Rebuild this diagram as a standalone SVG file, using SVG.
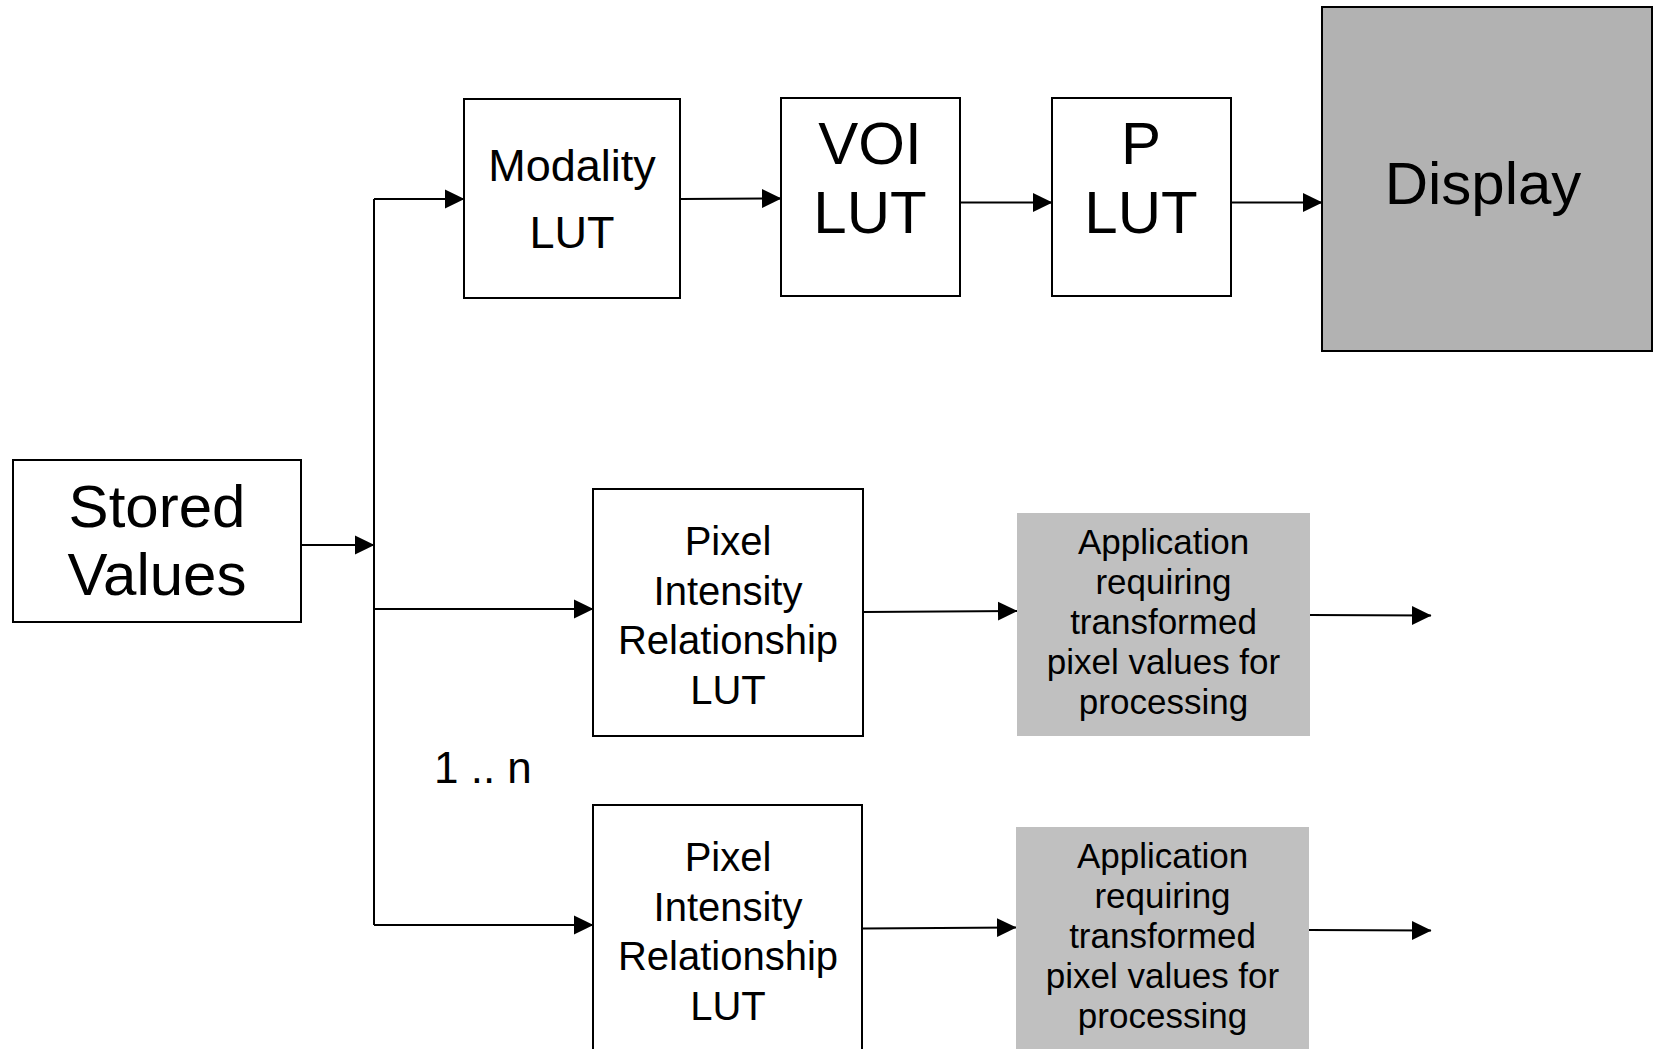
<svg xmlns="http://www.w3.org/2000/svg" width="1654" height="1049" viewBox="0 0 1654 1049">
<style>
text{font-family:"Liberation Sans",Arial,sans-serif;fill:#000;text-anchor:middle}
.box{fill:#fff;stroke:#000;stroke-width:2}
.dark{fill:#b2b2b2;stroke:#000;stroke-width:2}
.app{fill:#c0c0c0;stroke:none}
.c{fill:none;stroke:#000;stroke-width:2}
.a{fill:none;stroke:#000;stroke-width:2;marker-end:url(#ah)}
</style>
<defs>
<marker id="ah" markerUnits="userSpaceOnUse" markerWidth="20" markerHeight="20" viewBox="0 0 20 20" refX="19" refY="10" orient="auto">
<path d="M0,0.5 L19.5,10 L0,19.5 Z" fill="#000"/>
</marker>
</defs>
<rect width="1654" height="1049" fill="#fff"/>
<g id="connectors">
<line class="a" x1="301" y1="545" x2="374" y2="545"/>
<line class="c" x1="374" y1="199" x2="374" y2="925"/>
<line class="a" x1="374" y1="199" x2="464" y2="199"/>
<line class="a" x1="681" y1="199" x2="781" y2="198.5"/>
<line class="a" x1="961" y1="202.5" x2="1052" y2="202.5"/>
<line class="a" x1="1231" y1="202.5" x2="1322" y2="202.5"/>
<line class="a" x1="374" y1="609" x2="593" y2="609"/>
<line class="a" x1="374" y1="925" x2="593" y2="925"/>
<line class="a" x1="864" y1="612" x2="1017" y2="611"/>
<line class="a" x1="1310" y1="615" x2="1431" y2="615.5"/>
<line class="a" x1="863" y1="928.5" x2="1016" y2="927.5"/>
<line class="a" x1="1309" y1="930" x2="1431" y2="930.5"/>
</g>
<g id="stored">
<rect class="box" x="13" y="460" width="288" height="162"/>
<text x="157" y="527" font-size="60">Stored</text>
<text x="157" y="595" font-size="60">Values</text>
</g>
<g id="modality">
<rect class="box" x="464" y="99" width="216" height="199"/>
<text x="572" y="181" font-size="45">Modality</text>
<text x="572" y="248" font-size="45">LUT</text>
</g>
<g id="voi">
<rect class="box" x="781" y="98" width="179" height="198"/>
<text x="870" y="164" font-size="60">VOI</text>
<text x="870" y="233" font-size="60">LUT</text>
</g>
<g id="plut">
<rect class="box" x="1052" y="98" width="179" height="198"/>
<text x="1141" y="164" font-size="60">P</text>
<text x="1141" y="233" font-size="60">LUT</text>
</g>
<g id="display">
<rect class="dark" x="1322" y="7" width="330" height="344"/>
<text x="1483" y="204" font-size="60">Display</text>
</g>
<g id="pir1">
<rect class="box" x="593" y="489" width="270" height="247"/>
<text x="728" y="555" font-size="40">Pixel</text>
<text x="728" y="605" font-size="40">Intensity</text>
<text x="728" y="654" font-size="40">Relationship</text>
<text x="728" y="704" font-size="40">LUT</text>
</g>
<g id="pir2">
<rect class="box" x="593" y="805" width="269" height="260"/>
<text x="728" y="871" font-size="40">Pixel</text>
<text x="728" y="921" font-size="40">Intensity</text>
<text x="728" y="970" font-size="40">Relationship</text>
<text x="728" y="1020" font-size="40">LUT</text>
</g>
<g id="app1">
<rect class="app" x="1017" y="513" width="293" height="223"/>
<text x="1163.5" y="554" font-size="35">Application</text>
<text x="1163.5" y="594" font-size="35">requiring</text>
<text x="1163.5" y="634" font-size="35">transformed</text>
<text x="1163.5" y="674" font-size="35">pixel values for</text>
<text x="1163.5" y="714" font-size="35">processing</text>
</g>
<g id="app2">
<rect class="app" x="1016" y="827" width="293" height="230"/>
<text x="1162.5" y="868" font-size="35">Application</text>
<text x="1162.5" y="908" font-size="35">requiring</text>
<text x="1162.5" y="948" font-size="35">transformed</text>
<text x="1162.5" y="988" font-size="35">pixel values for</text>
<text x="1162.5" y="1028" font-size="35">processing</text>
</g>
<g id="multiplicity">
<text x="434" y="783" font-size="44" style="text-anchor:start">1 .. n</text>
</g>
</svg>
